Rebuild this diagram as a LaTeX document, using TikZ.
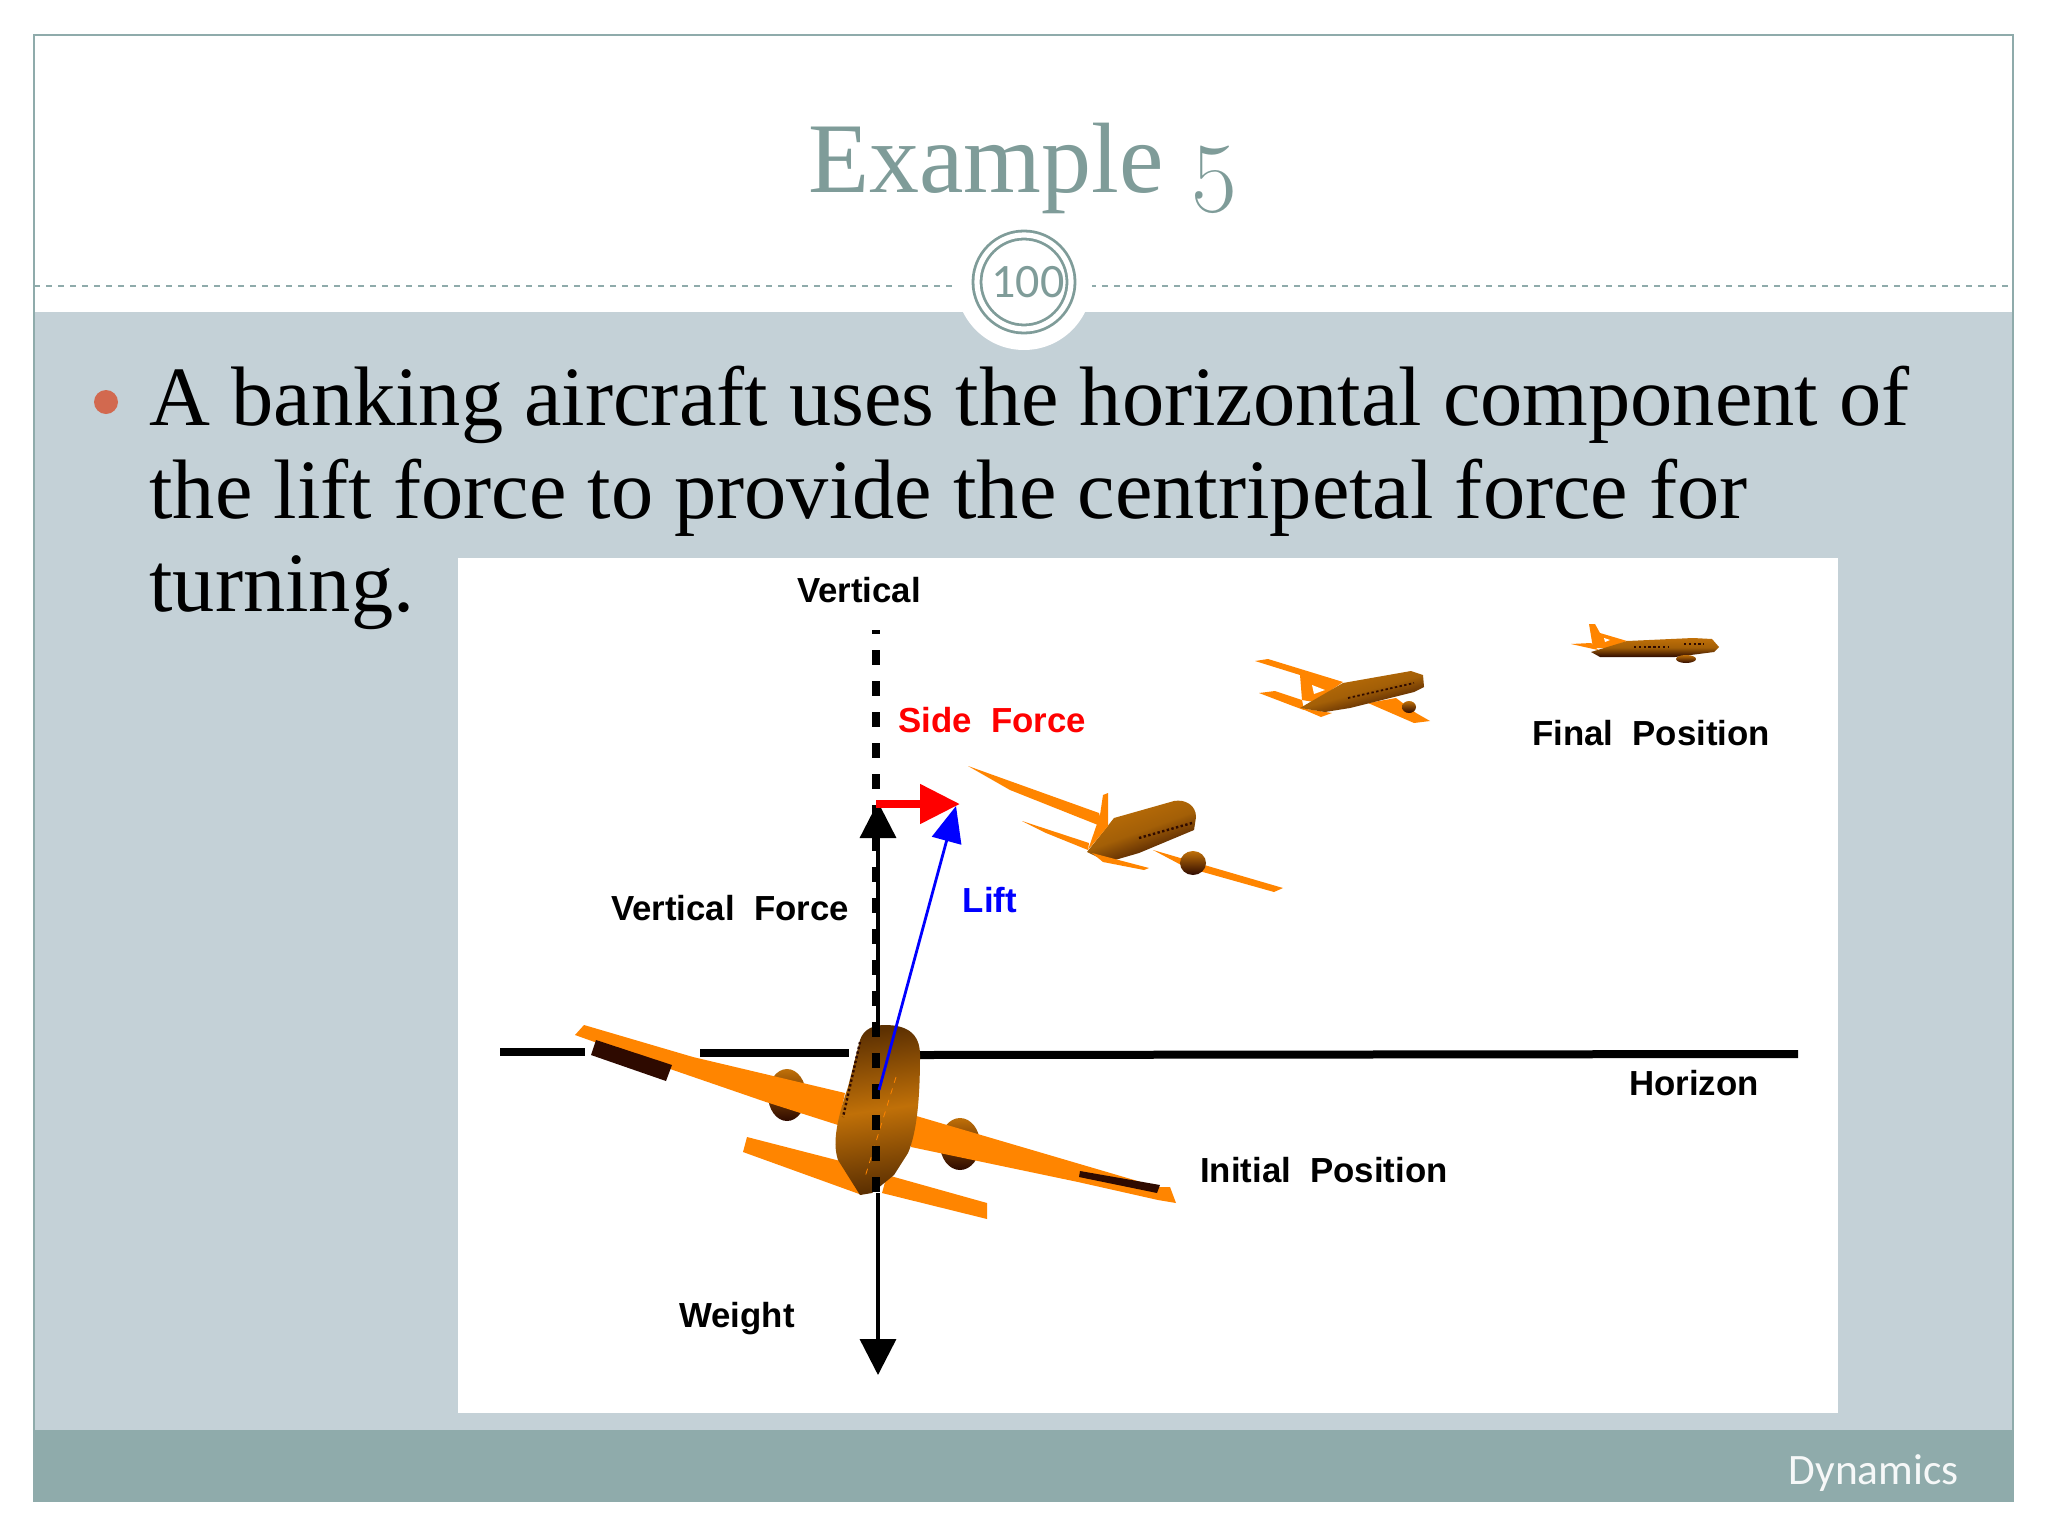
\documentclass[tikz,border=0pt]{standalone}
\usepackage{xcolor}
\usepackage{fontspec}
\setmainfont{Liberation Serif}
\setsansfont{Liberation Sans}
\newfontfamily\footfont{Carlito}
\newfontfamily\oldnumfont[Numbers=OldStyle]{Latin Modern Roman}
\usetikzlibrary{arrows.meta, positioning, shapes.geometric}

\definecolor{slideGreen}{HTML}{8FABAB}
\definecolor{titleGreen}{HTML}{7F9C99}
\definecolor{panelGrey}{HTML}{C4D1D7}
\definecolor{bulletRed}{HTML}{D2694F}
\definecolor{wingOrange}{HTML}{FF8500}
\definecolor{hullMid}{HTML}{C07008}
\definecolor{hullDark}{HTML}{5C3002}
\definecolor{podDark}{HTML}{2E0A00}

\begin{document}
\begin{tikzpicture}[
      x=0.5pt,
      y=-0.5pt,
      wing/.style={
        fill=wingOrange
      },
      pod/.style={
        fill=podDark
      },
      hull/.style={
        shading=axis,
        left color=hullDark,
        right color=hullDark,
        middle color=hullMid
      },
      sidehull/.style={
        shading=axis,
        top color=hullMid,
        bottom color=podDark,
        middle color=hullMid!85!black
      },
      engine/.style={
        ellipse,
        inner sep=0pt,
        top color=hullMid,
        bottom color=podDark
      },
      portholes/.style={
        draw=podDark,
        line width=1.2pt,
        dash pattern=on 1.2pt off 1.2pt
      },
      textlabel/.style={
        inner sep=0pt,
        font=\sffamily\bfseries\fontsize{17.4}{20}\selectfont
      },
      force/.style={
        line width=1.7pt,
        -{Triangle[length=18pt,width=18pt]}
      },
      groundline/.style={
        line width=4pt
      },
      dashline/.style={
        line width=4pt,
        dash pattern=on 7.5pt off 8pt,
        dash phase=5.5pt
      }
    ]
    \useasboundingbox (0,0) rectangle (2048,1536);

    % Slide Background
    \fill [panelGrey] (34,312) rectangle (2013,1430);
    \fill [slideGreen] (34,1430) rectangle (2013,1501);
    \draw [slideGreen, line width=0.8pt] (34,35) rectangle (2013,1501);
    \draw [slideGreen, line width=0.7pt, dashed] (34,286) -- (2013,286);

    % Page Number Badge
    \node (halo) [circle, fill=white, inner sep=0pt, minimum size=68pt] at (1024,282) {};
    \node (pageNumber) [circle, draw=titleGreen, fill=white, line width=1.4pt, double=white, double distance=2.6pt, inner sep=0pt, minimum size=47pt] at (1024,282) {};
    \node (pageDigits) [inner sep=0pt, text=titleGreen, font=\footfont\fontsize{24}{28}\selectfont] at (1028,282) {100};

    % Slide Text
    \node (title) [inner sep=0pt, anchor=base, text=titleGreen, font=\fontsize{50}{55}\selectfont] at (1024,192) {Example {\oldnumfont 5}};
    \node (bullet) [circle, fill=bulletRed, inner sep=0pt, minimum size=12pt] at (106,402) {};
    \node (bodyText) [anchor=north west, inner sep=0pt, align=left, font=\fontsize{42.2}{46.5}\selectfont, text=black] at (149,366) {A banking aircraft uses the horizontal component of\\the lift force to provide the centripetal force for\\turning.};
    \node (footer) [anchor=east, inner sep=0pt, text=white!92!slideGreen, font=\footfont\fontsize{21.7}{24}\selectfont] at (1959,1473) {Dynamics};

    % Picture Panel
    \fill [white] (458,558) rectangle (1838,1413);

    % Force Coordinates
    \coordinate (axisTop) at (876,630);
    \coordinate (axisEnd) at (876,1193);
    \coordinate (forceOrigin) at (878,1090);
    \coordinate (verticalTip) at (878,802);
    \coordinate (weightStart) at (878,1193);
    \coordinate (weightTip) at (878,1375);
    \coordinate (sideStart) at (876,804);
    \coordinate (sideTip) at (960,804);
    \coordinate (liftStart) at (879,1090);
    \coordinate (liftTip) at (956,806);

    % Horizon
    \coordinate (horizonA) at (500,1052);
    \coordinate (horizonB) at (585,1052);
    \coordinate (horizonC) at (700,1053);
    \coordinate (horizonD) at (849,1053);
    \coordinate (horizonE) at (920,1055);
    \coordinate (horizonF) at (1798,1054);
    \draw [groundline] (horizonA) -- (horizonB);
    \draw [groundline] (horizonC) -- (horizonD);
    \draw [groundline] (horizonE) -- (horizonF);

    % Arrows Under The Aircraft
    \draw [force] (forceOrigin) -- (verticalTip);
    \draw [force] (weightStart) -- (weightTip);

    % Final Aircraft
    \fill [wing] (1589,624) -- (1595,624) -- (1600,633) -- (1627,641) -- (1607,648) -- (1593,648) -- cycle;
    \fill [wing] (1571,644) -- (1591,643) -- (1598,650) -- cycle;
    \fill [white] (1604,638) -- (1610,640) -- (1605,642) -- cycle;
    \shade [sidehull] (1591,652) -- (1627,641) -- (1693,638) -- (1712,639) -- (1719,647) -- (1714,652) -- (1675,657) -- (1600,657) -- cycle;
    \node (finalEngine) [engine, minimum width=10pt, minimum height=4pt] at (1686,659) {};
    \draw [portholes, line width=0.9pt] (1634,647) -- (1668,647);
    \draw [portholes, line width=0.9pt] (1684,644) -- (1704,644);

    % Banking Aircraft
    \fill [wing] (1255,661) -- (1268,659) -- (1343,682) -- (1314,702) -- (1302,700) -- (1300,675) -- cycle;
    \fill [white] (1312,685) -- (1325,690) -- (1314,694) -- cycle;
    \fill [wing] (1259,693) -- (1275,691) -- (1302,700) -- (1304,710) -- (1293,706) -- cycle;
    \fill [wing] (1300,708) -- (1332,713) -- (1321,717) -- cycle;
    \fill [wing] (1368,703) -- (1396,698) -- (1416,713) -- (1430,721) -- (1414,723) -- cycle;
    \node (bankEngine) [engine, minimum width=7pt, minimum height=6pt] at (1409,707) {};
    \shade [sidehull, shading angle=15] (1300,708) -- (1343,683) -- (1411,671) -- (1423,675) -- (1424,687) -- (1414,692) -- (1350,708) -- (1325,712) -- cycle;
    \draw [portholes, line width=0.9pt] (1348,698) -- (1414,683);

    % Turning Aircraft
    \fill [wing] (1153,850) -- (1283,888) -- (1274,892) -- (1185,867) -- cycle;
    \node (turnEngine) [engine, minimum width=13pt, minimum height=12pt] at (1193,863) {};
    \fill [wing] (968,766) -- (1099,813) -- (1103,827) -- (1010,790) -- cycle;
    \fill [wing] (1022,821) -- (1089,843) -- (1088,850) -- (1046,833) -- cycle;
    \shade [sidehull, shading angle=20] (1087,852) -- (1114,818) -- (1174,801) .. controls (1185,799) and (1196,805) .. (1196,817) -- (1194,830) -- (1139,853) -- (1108,862) -- cycle;
    \fill [wing] (1108,793) -- (1103,795) -- (1100,815) -- (1088,850) -- (1108,826) -- cycle;
    \fill [wing] (1092,853) -- (1149,868) -- (1144,870) -- (1103,862) -- cycle;
    \draw [portholes] (1139,838) -- (1192,823);

    % Initial Aircraft
    \node (leftEngine) [engine, minimum width=19pt, minimum height=26pt] at (787,1095) {};
    \node (rightEngine) [engine, minimum width=20pt, minimum height=26pt] at (960,1144) {};
    \fill [wing] (584,1025) -- (575,1035) -- (673,1070) -- (766,1102) -- (838,1125) -- (845,1093) -- (693,1057) -- cycle;
    \fill [wing] (913,1115) -- (1158,1187) -- (1170,1187) -- (1176,1203) -- (1158,1200) -- (1078,1182) -- (911,1147) -- cycle;
    \fill [pod] (596,1040) -- (591,1055) -- (666,1081) -- (672,1065) -- cycle;
    \fill [pod] (1080,1171) -- (1079,1177) -- (1157,1193) -- (1160,1185) -- cycle;
    \fill [wing] (747,1137) -- (743,1152) -- (862,1195) -- (848,1163) -- cycle;
    \fill [wing] (887,1175) -- (987,1203) -- (987,1219) -- (882,1193) -- cycle;
    \shade [hull, shading angle=8] (860,1195) -- (838,1160) .. controls (833,1145) and (835,1125) .. (848,1087) -- (860,1040) .. controls (864,1028) and (875,1025) .. (885,1025) .. controls (905,1025) and (920,1032) .. (920,1055) .. controls (920,1090) and (918,1130) .. (908,1153) -- (894,1175) -- (872,1193) -- cycle;
    \draw [portholes] (860,1042) -- (843,1117);
    \draw [wingOrange, line width=0.4pt, dashed] (896,1077) -- (865,1177);

    % Arrows Over The Aircraft
    \draw [dashline] (axisTop) -- (axisEnd);
    \draw [force, blue, line width=1.4pt, -{Triangle[length=18pt,width=15pt]}] (liftStart) -- (liftTip);
    \draw [force, red, line width=4pt, -{Triangle[length=20pt,width=19pt]}] (sideStart) -- (sideTip);

    % Labels
    \node (verticalLabel) [textlabel] at (859,590) {Vertical};
    \node (sideLabel) [textlabel, text=red] at (992,720) {Side\ \ Force};
    \node (finalLabel) [textlabel] at (1651,733) {Final\ \ Position};
    \node (verticalForceLabel) [textlabel] at (730,908) {Vertical\ \ Force};
    \node (liftLabel) [textlabel, text=blue] at (990,900) {Lift};
    \node (horizonLabel) [textlabel] at (1694,1083) {Horizon};
    \node (initialLabel) [textlabel] at (1324,1170) {Initial\ \ Position};
    \node (weightLabel) [textlabel] at (737,1319) {Weight};

\end{tikzpicture}
\end{document}
